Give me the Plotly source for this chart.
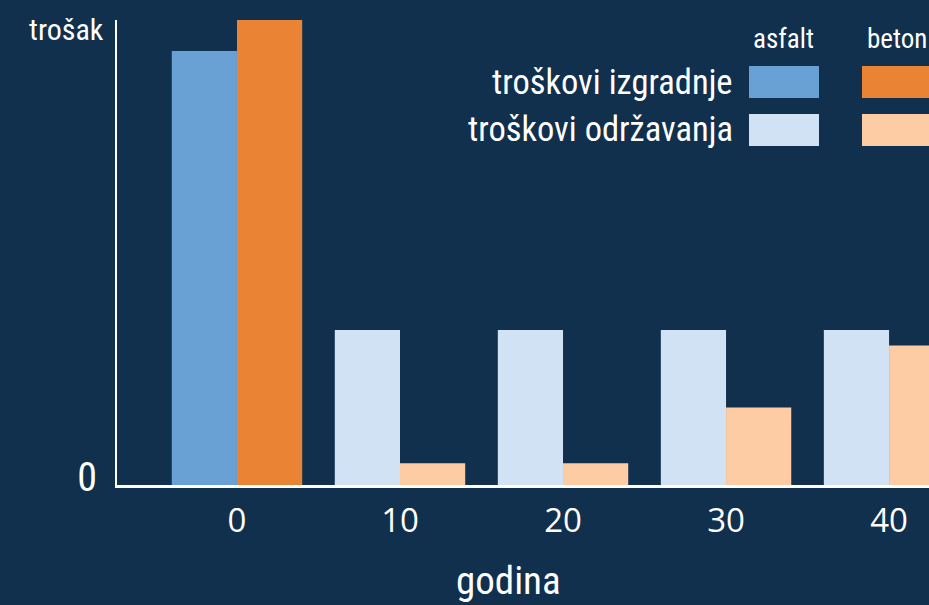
import plotly.graph_objects as go

years = [0, 10, 20, 30, 40]
construction_years = [0]
maintenance_years = [10, 20, 30, 40]
asfalt_construction = [28]
beton_construction = [30]
asfalt_maintenance = [10, 10, 10, 10]
beton_maintenance = [1.4, 1.4, 5, 9]
tick_labels = ["0", "10", "20", "30", "40"]

BG = "#11304d"
C_ASF = "#6aa1d5"
C_BET = "#ea8333"
C_ASF_M = "#d0e2f4"
C_BET_M = "#fdcca5"
NARROW = "Liberation Sans Narrow, Roboto Condensed, DejaVu Sans Condensed, Arial Narrow, sans-serif"
ROUND = "Open Sans, Noto Sans, sans-serif"

W, H = 929, 605
L, R, T, B = 117, 0, 20, 120
PW, PH = W - L - R, H - T - B

def px(xp):
    return (xp - L) / PW

def py(yp):
    return (H - B - yp) / PH

fig = go.Figure()
fig.add_bar(x=construction_years, y=asfalt_construction, offsetgroup="a",
            marker=dict(color=C_ASF, line=dict(width=0)), name="asfalt izgradnja")
fig.add_bar(x=construction_years, y=beton_construction, offsetgroup="b",
            marker=dict(color=C_BET, line=dict(width=0)), name="beton izgradnja")
fig.add_bar(x=maintenance_years, y=asfalt_maintenance, offsetgroup="a",
            marker=dict(color=C_ASF_M, line=dict(width=0)), name="asfalt održavanje")
fig.add_bar(x=maintenance_years, y=beton_maintenance, offsetgroup="b",
            marker=dict(color=C_BET_M, line=dict(width=0)), name="beton održavanje")

fig.update_layout(
    width=W, height=H,
    margin=dict(l=L, r=R, t=T, b=B, pad=0),
    paper_bgcolor=BG, plot_bgcolor=BG,
    barmode="group", bargap=0.2, bargroupgap=0,
    showlegend=False,
    font=dict(color="white"),
    xaxis=dict(
        range=[-7.36, 42.45], tickvals=years, ticktext=tick_labels,
        showline=True, linecolor="white", linewidth=3, showgrid=False, zeroline=False,
        ticks="", tickfont=dict(family=ROUND, size=33, color="white"),
        ticklabelstandoff=4,
        fixedrange=True,
    ),
    yaxis=dict(
        range=[0, 30], tickvals=[0], ticktext=["0"],
        showline=True, linecolor="white", linewidth=2, showgrid=False, zeroline=False,
        ticks="", tickfont=dict(family=NARROW, size=40, color="white"),
        ticklabelstandoff=10, ticklabelshift=-8,
        fixedrange=True,
    ),
)

ann = []
ann.append(dict(text="godina", xref="paper", yref="paper", x=px(508), y=py(581),
                xanchor="center", yanchor="middle", showarrow=False,
                font=dict(family=NARROW, size=39, color="white")))
ann.append(dict(text="trošak", xref="paper", yref="paper", x=px(106), y=py(30),
                xanchor="right", yanchor="middle", showarrow=False,
                font=dict(family=NARROW, size=30, color="white")))
ann.append(dict(text="asfalt", xref="paper", yref="paper", x=px(783), y=py(39),
                xanchor="center", yanchor="middle", showarrow=False,
                font=dict(family=NARROW, size=27, color="white")))
ann.append(dict(text="beton", xref="paper", yref="paper", x=px(865), y=py(39),
                xanchor="left", yanchor="middle", showarrow=False,
                font=dict(family=NARROW, size=27, color="white")))
ann.append(dict(text="troškovi izgradnje", xref="paper", yref="paper", x=px(735), y=py(82),
                xanchor="right", yanchor="middle", showarrow=False,
                font=dict(family=NARROW, size=34.5, color="white")))
ann.append(dict(text="troškovi održavanja", xref="paper", yref="paper", x=px(735), y=py(129),
                xanchor="right", yanchor="middle", showarrow=False,
                font=dict(family=NARROW, size=34.5, color="white")))
fig.update_layout(annotations=ann)

shapes = []
for (x0, x1, y0, y1, c) in [
    (749, 819, 66, 98, C_ASF), (862, 940, 66, 98, C_BET),
    (749, 819, 114, 146, C_ASF_M), (862, 940, 114, 146, C_BET_M)]:
    shapes.append(dict(type="rect", xref="paper", yref="paper",
                       x0=px(x0), x1=px(x1), y0=py(y1), y1=py(y0),
                       fillcolor=c, line=dict(width=0), layer="above"))
fig.update_layout(shapes=shapes)

fig.write_html("out.html", config={"displayModeBar": False},
               post_script="document.body.style.margin='0';document.body.style.overflow='hidden';document.body.style.background='" + BG + "';")
